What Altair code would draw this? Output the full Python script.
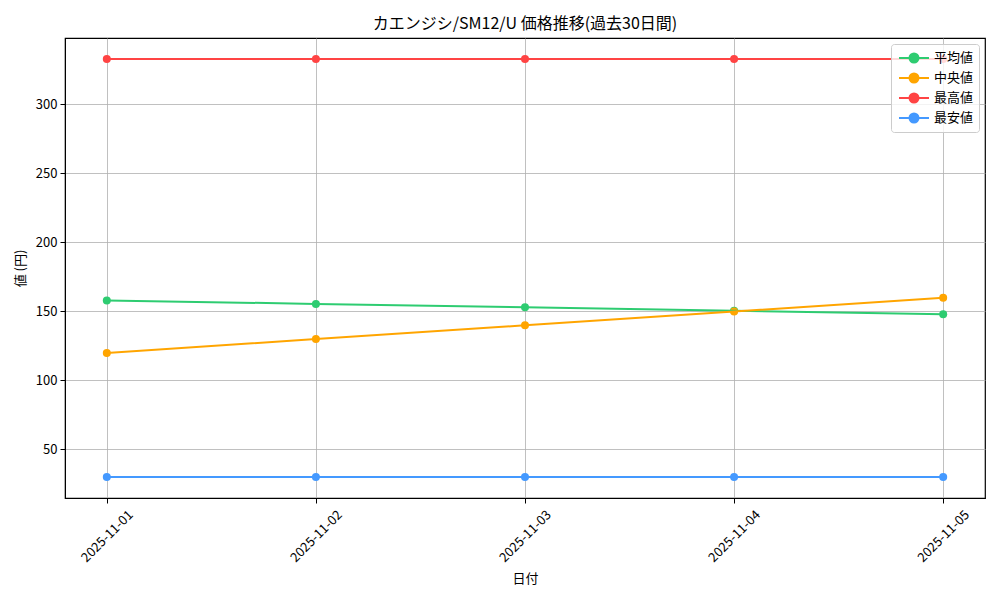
import altair as alt
import pandas as pd

dates = ["2025-11-01", "2025-11-02", "2025-11-03", "2025-11-04", "2025-11-05"]
series_names = ["平均値", "中央値", "最高値", "最安値"]
avg_vals = [158, 155.5, 153, 150.5, 148]
med_vals = [120, 130, 140, 150, 160]
max_vals = [333, 333, 333, 333, 333]
min_vals = [30, 30, 30, 30, 30]
colors = ["#2ecc71", "#ffa500", "#ff4444", "#4499ff"]
y_ticks = [50, 100, 150, 200, 250, 300]

rows = []
for name, vals in zip(series_names, [avg_vals, med_vals, max_vals, min_vals]):
    for d, v in zip(dates, vals):
        rows.append({"日付": d, "系列": name, "値": v})
df = pd.DataFrame(rows)

FONT = "Noto Sans CJK JP"
sym = ("M-1.875,0H-0.5625M0.5625,0H1.875"
       "M-0.5625,0A0.5625,0.5625,0,1,1,0.5625,0A0.5625,0.5625,0,1,1,-0.5625,0")

x_enc = alt.X("日付:N", sort=dates,
              scale=alt.Scale(type="point", padding=0.2),
              axis=alt.Axis(title="日付", labelAngle=-45, labelAlign="center",
                            labelBaseline="middle", labelPadding=33, tickSize=5,
                            titleY=80, titleBaseline="middle", titleFontWeight="normal"))
y_enc = alt.Y("値:Q", scale=alt.Scale(domain=[14.85, 348.15], nice=False, zero=False),
              axis=alt.Axis(title="値 (円)", values=y_ticks, tickSize=5, labelPadding=3,
                            titleX=-45, titleBaseline="middle", titleFontWeight="normal"))
color_enc = alt.Color("系列:N",
                      scale=alt.Scale(domain=series_names, range=colors),
                      legend=alt.Legend(title=None, orient="top-right", offset=6,
                                        symbolType=sym, symbolSize=256, symbolStrokeWidth=2,
                                        symbolOffset=9,
                                        labelFontSize=13, labelFont=FONT, rowPadding=2,
                                        fillColor="rgba(255,255,255,0.8)", strokeColor="#cccccc",
                                        cornerRadius=3, padding=5, labelOffset=11))

base = alt.Chart(df).encode(x=x_enc, y=y_enc, color=color_enc)
points = base.mark_point(size=64, filled=True, opacity=1, strokeWidth=2)
lines = base.mark_line(strokeWidth=2)

chart = alt.layer(points, lines).properties(
    width=920, height=460,
    title=alt.TitleParams("カエンジシ/SM12/U 価格推移(過去30日間)", font=FONT, fontSize=16,
                          fontWeight="normal", offset=6, anchor="middle"),
    autosize=alt.AutoSizeParams(type="none"),
    padding={"left": 57, "top": 30, "right": 7, "bottom": 94},
).configure_view(
    stroke="black", strokeWidth=1.2
).configure_axis(
    labelFont=FONT, titleFont=FONT, labelFontSize=13, titleFontSize=13,
    labelColor="black", titleColor="black", tickColor="black",
    domainColor="black", gridColor="#b0b0b0", gridWidth=0.8, grid=True,
)

chart.save("out.html", embed_options={"renderer": "svg", "actions": False})
